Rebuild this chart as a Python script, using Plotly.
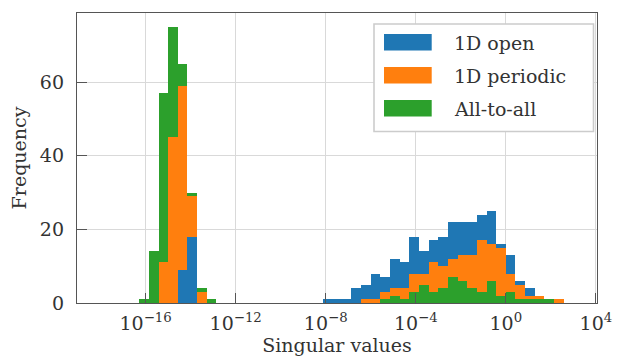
import numpy as np
import plotly.graph_objects as go

# ---- data: histogram counts per log-spaced bin (49 bins from 1e-18 to 1e3) ----
N_BINS = 49
LOG_MIN, LOG_MAX = -18.0, 3.0

series_names = ["1D open", "1D periodic", "All-to-all"]
series_colors = ["#1f77b4", "#ff7f0e", "#2ca02c"]

# small singular values cluster (bin index -> count)
open_small_bins = [8, 9]
open_small_counts = [9, 18]
periodic_small_bins = [6, 7, 8, 9, 10]
periodic_small_counts = [11, 45, 59, 29, 3]
all_small_bins = [4, 5, 6, 7, 8, 9, 10, 11]
all_small_counts = [1, 14, 57, 75, 65, 30, 4, 1]

# large singular values cluster
open_large_bins = list(range(23, 45))
open_large_counts = [1, 1, 1, 4, 5, 8, 7, 12, 11, 18, 14, 17, 18, 22, 22, 22, 24, 25, 16, 13, 6, 4]
periodic_large_bins = list(range(27, 48))
periodic_large_counts = [1, 1, 3, 4, 4, 8, 8, 11, 10, 12, 13, 13, 17, 16, 15, 8, 5, 2, 2, 1, 1]
all_large_bins = list(range(29, 47))
all_large_counts = [1, 2, 1, 3, 5, 3, 4, 7, 6, 4, 3, 6, 2, 3, 1, 1, 1, 1]

x_tickvals = [-16, -12, -8, -4, 0, 4]
x_ticktext = ["10<sup>\u221216</sup>", "10<sup>\u221212</sup>", "10<sup>\u22128</sup>",
              "10<sup>\u22124</sup>", "10<sup>0</sup>", "10<sup>4</sup>"]
y_tickvals = [0, 20, 40, 60]

# ---- build ----
edges = np.linspace(LOG_MIN, LOG_MAX, N_BINS + 1)
width = edges[1] - edges[0]
centers = 0.5 * (edges[:-1] + edges[1:])

FONT = "DejaVu Serif"
TXT = "#333333"
AX = "#555555"

fig = go.Figure()

def add(bins, counts, color, name):
    fig.add_trace(go.Bar(
        x=centers[np.array(bins)], y=counts, width=width,
        marker=dict(color=color, line=dict(width=0)),
        name=name, showlegend=False, hoverinfo="x+y"))

# large cluster: open behind, all-to-all in front
add(open_large_bins, open_large_counts, series_colors[0], series_names[0])
add(periodic_large_bins, periodic_large_counts, series_colors[1], series_names[1])
add(all_large_bins, all_large_counts, series_colors[2], series_names[2])
# small cluster: all-to-all behind, open in front
add(all_small_bins, all_small_counts, series_colors[2], series_names[2])
add(periodic_small_bins, periodic_small_counts, series_colors[1], series_names[1])
add(open_small_bins, open_small_counts, series_colors[0], series_names[0])

L, R, T, B = 77, 23, 13, 57
W, H = 620, 360
pw, ph = W - L - R, H - T - B

def px(x):
    return (x - L) / pw

def py(y):
    return (H - B - y) / ph

shapes = [dict(type="rect", xref="paper", yref="paper",
               x0=px(374), x1=px(593.5), y0=py(131.5), y1=py(24),
               line=dict(color="#cccccc", width=1.6), fillcolor="white", layer="above")]
annotations = []
row_y = [42.3, 75.3, 108.3]
for name, color, ry in zip(series_names, series_colors, row_y):
    shapes.append(dict(type="rect", xref="paper", yref="paper",
                       x0=px(384), x1=px(431.7), y0=py(ry + 8.3), y1=py(ry - 8.3),
                       line=dict(width=0), fillcolor=color, layer="above"))
    annotations.append(dict(xref="paper", yref="paper", x=px(451.5), y=py(ry + 0.5),
                            text=name, showarrow=False, xanchor="left", yanchor="middle",
                            font=dict(family=FONT, size=19, color=TXT)))

fig.update_layout(
    width=W, height=H,
    margin=dict(l=L, r=R, t=T, b=B, autoexpand=False),
    paper_bgcolor="white", plot_bgcolor="white",
    barmode="overlay", bargap=0,
    font=dict(family=FONT, size=19, color=TXT),
    shapes=shapes, annotations=annotations,
    showlegend=False,
)
fig.update_xaxes(
    range=[-19.05, 4.05], tickmode="array", tickvals=x_tickvals, ticktext=x_ticktext,
    ticks="inside", ticklen=10, tickwidth=1.3, tickcolor=AX,
    showline=True, linecolor=AX, linewidth=1.4, mirror=True,
    showgrid=True, gridcolor="#d9d9d9", gridwidth=1.2, zeroline=False,
    tickfont=dict(family=FONT, size=19, color=TXT), ticklabelstandoff=3,
    title=dict(text="Singular values", font=dict(family=FONT, size=19, color=TXT), standoff=4),
)
fig.update_yaxes(
    range=[0, 78.75], tickmode="array", tickvals=y_tickvals,
    ticks="inside", ticklen=10, tickwidth=1.3, tickcolor=AX,
    showline=True, linecolor=AX, linewidth=1.4, mirror=True,
    showgrid=True, gridcolor="#d9d9d9", gridwidth=1.2, zeroline=False,
    tickfont=dict(family=FONT, size=19, color=TXT), ticklabelstandoff=8,
    title=dict(text="Frequency", font=dict(family=FONT, size=19, color=TXT), standoff=8),
)

fig.write_html("out.html")
